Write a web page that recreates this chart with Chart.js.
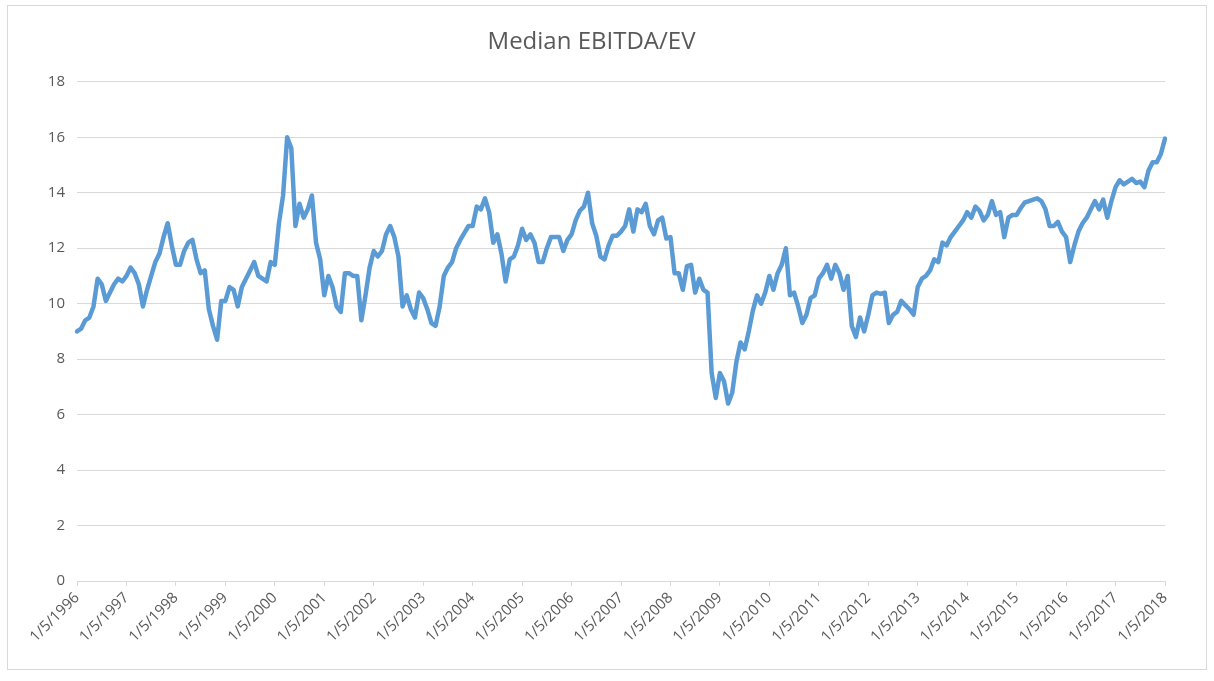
<!DOCTYPE html>
<html>
<head>
<meta charset="utf-8">
<script src="https://cdn.jsdelivr.net/npm/chart.js@4.4.1/dist/chart.umd.min.js"></script>
<style>
  html, body { margin: 0; padding: 0; background: #ffffff; }
  #wrap {
    position: absolute; left: 7px; top: 5px;
    width: 1200px; height: 665px;
    border: 1px solid #d9d9d9; box-sizing: border-box;
  }
</style>
</head>
<body>
<div id="wrap"><canvas id="ebitdaChart"></canvas></div>
<script>
// monthly readings (5th of each month), one array per year
const v1996 = [9.0, 9.1, 9.4, 9.5, 9.9, 10.9, 10.7, 10.1, 10.4, 10.7, 10.9, 10.8];
const v1997 = [11.0, 11.3, 11.1, 10.7, 9.9, 10.5, 11.0, 11.5, 11.8, 12.4, 12.9, 12.1];
const v1998 = [11.4, 11.4, 11.9, 12.2, 12.3, 11.6, 11.1, 11.2, 9.8, 9.2, 8.7, 10.1];
const v1999 = [10.1, 10.6, 10.5, 9.9, 10.6, 10.9, 11.2, 11.5, 11.0, 10.9, 10.8, 11.5];
const v2000 = [11.4, 12.9, 13.9, 16.0, 15.6, 12.8, 13.6, 13.1, 13.4, 13.9, 12.2, 11.6];
const v2001 = [10.3, 11.0, 10.6, 9.9, 9.7, 11.1, 11.1, 11.0, 11.0, 9.4, 10.3, 11.3];
const v2002 = [11.9, 11.7, 11.9, 12.5, 12.8, 12.4, 11.7, 9.9, 10.3, 9.8, 9.5, 10.4];
const v2003 = [10.2, 9.8, 9.3, 9.2, 9.9, 11.0, 11.3, 11.5, 12.0, 12.3, 12.55, 12.8];
const v2004 = [12.8, 13.5, 13.4, 13.8, 13.3, 12.2, 12.5, 11.8, 10.8, 11.6, 11.7, 12.1];
const v2005 = [12.7, 12.3, 12.5, 12.2, 11.5, 11.5, 12.0, 12.4, 12.4, 12.4, 11.9, 12.3];
const v2006 = [12.5, 13.0, 13.35, 13.5, 14.0, 12.9, 12.45, 11.7, 11.6, 12.1, 12.45, 12.45];
const v2007 = [12.6, 12.8, 13.4, 12.6, 13.4, 13.3, 13.6, 12.8, 12.5, 13.0, 13.1, 12.35];
const v2008 = [12.4, 11.1, 11.1, 10.5, 11.35, 11.4, 10.4, 10.9, 10.5, 10.4, 7.5, 6.6];
const v2009 = [7.5, 7.2, 6.4, 6.8, 7.9, 8.6, 8.35, 9.0, 9.75, 10.3, 10.0, 10.4];
const v2010 = [11.0, 10.5, 11.1, 11.4, 12.0, 10.3, 10.4, 9.9, 9.3, 9.6, 10.2, 10.3];
const v2011 = [10.9, 11.1, 11.4, 10.9, 11.4, 11.1, 10.5, 11.0, 9.2, 8.8, 9.5, 9.0];
const v2012 = [9.6, 10.3, 10.4, 10.35, 10.4, 9.3, 9.6, 9.7, 10.1, 9.95, 9.8, 9.6];
const v2013 = [10.6, 10.9, 11.0, 11.2, 11.6, 11.5, 12.2, 12.1, 12.4, 12.6, 12.8, 13.0];
const v2014 = [13.3, 13.1, 13.5, 13.35, 13.0, 13.2, 13.7, 13.2, 13.3, 12.4, 13.1, 13.2];
const v2015 = [13.2, 13.45, 13.65, 13.7, 13.75, 13.8, 13.7, 13.4, 12.8, 12.8, 12.95, 12.6];
const v2016 = [12.4, 11.5, 12.1, 12.6, 12.9, 13.1, 13.4, 13.7, 13.4, 13.75, 13.1, 13.7];
const v2017 = [14.2, 14.45, 14.3, 14.4, 14.5, 14.35, 14.4, 14.2, 14.8, 15.1, 15.1, 15.4];
const v2018 = [15.95];

const years = [1996, 1997, 1998, 1999, 2000, 2001, 2002, 2003, 2004, 2005, 2006,
               2007, 2008, 2009, 2010, 2011, 2012, 2013, 2014, 2015, 2016, 2017, 2018];
const yearValues = [v1996, v1997, v1998, v1999, v2000, v2001, v2002, v2003, v2004, v2005, v2006,
                    v2007, v2008, v2009, v2010, v2011, v2012, v2013, v2014, v2015, v2016, v2017, v2018];

const yTicks = [0, 2, 4, 6, 8, 10, 12, 14, 16, 18];

const dateLabels = [];
const medianValues = [];
yearValues.forEach((vals, i) => {
    vals.forEach((v, m) => {
        dateLabels.push(`${m + 1}/5/${years[i]}`);
        medianValues.push(v);
    });
});

const gridGrey = '#d9d9d9';
const textGrey = '#595959';
const fontFamily = "'Open Sans', 'Noto Sans', sans-serif";

new Chart(document.getElementById('ebitdaChart'), {
    type: 'line',
    data: {
        labels: dateLabels,
        datasets: [{
            data: medianValues,
            borderColor: '#5b9bd5',
            borderWidth: 4.5,
            pointRadius: 0,
            tension: 0,
            borderJoinStyle: 'round',
            borderCapStyle: 'round'
        }]
    },
    options: {
        responsive: true,
        maintainAspectRatio: false,
        animation: false,
        layout: {
            padding: { left: 10, right: 41, top: 0, bottom: 0 }
        },
        plugins: {
            legend: { display: false },
            tooltip: { enabled: false },
            title: {
                display: true,
                text: 'Median EBITDA/EV',
                color: textGrey,
                font: { family: fontFamily, size: 24, weight: 'normal' },
                padding: { top: 22, bottom: 25 }
            }
        },
        scales: {
            x: {
                type: 'category',
                offset: false,
                afterBuildTicks: (scale) => {
                    // only the January labels, one per year
                    scale.ticks = scale.ticks.filter(t => t.value % 12 === 0);
                },
                afterFit: (scale) => { scale.height = 88; },
                grid: {
                    drawOnChartArea: false,
                    drawTicks: true,
                    tickLength: 5,
                    color: gridGrey
                },
                border: { color: gridGrey },
                ticks: {
                    autoSkip: false,
                    maxRotation: 45,
                    minRotation: 45,
                    padding: 3,
                    color: textGrey,
                    font: { family: fontFamily, size: 15 }
                }
            },
            y: {
                min: 0,
                max: 18,
                afterBuildTicks: (scale) => {
                    scale.ticks = yTicks.map(v => ({ value: v }));
                },
                afterFit: (scale) => { scale.width = 59; },
                grid: {
                    color: gridGrey,
                    drawTicks: false
                },
                border: { display: false },
                ticks: {
                    padding: 12,
                    color: textGrey,
                    font: { family: fontFamily, size: 15 }
                }
            }
        }
    }
});
</script>
</body>
</html>
